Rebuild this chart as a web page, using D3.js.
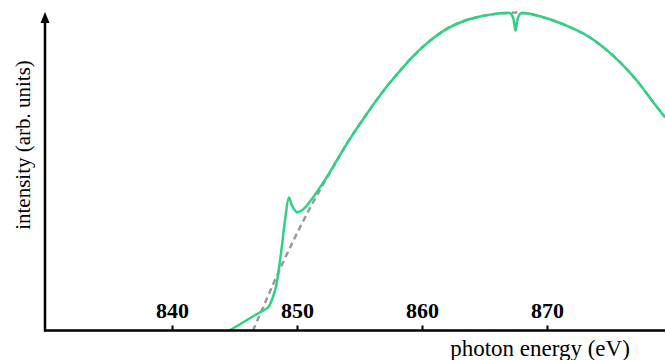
<!DOCTYPE html>
<html>
<head>
<meta charset="utf-8">
<script src="https://cdn.jsdelivr.net/npm/d3@7"></script>
<style>
  body { margin: 0; background: #fff; }
  text { font-family: "Liberation Serif", "DejaVu Serif", serif; fill: #000; }
</style>
</head>
<body>
<div id="container"></div>
<script>
// photon energy (eV) and intensity (arb. units, 0-100)
var specEnergy = [844.6, 847.04, 847.7, 848.24, 848.5, 848.78, 849.04, 849.36, 849.6, 850.0, 850.48, 851.04,
                  852.38, 853.98, 855.58, 857.18, 857.98, 859.3, 860.64, 861.98, 863.3, 864.64, 865.98,
                  867.04, 867.28, 867.4, 867.48, 867.56, 867.68, 867.92,
                  869.18, 870.5, 871.84, 873.18, 874.5, 875.84, 877.18, 878.5, 879.44];
var specIntensity = [0, 5.75, 7.33, 12.58, 17.92, 26.19, 34.59, 41.82, 39.31, 37.2, 38.05, 40.57,
                     48.21, 58.71, 68.1, 76.7, 80.45, 86.3, 91.1, 94.85, 97.26, 98.74, 99.59,
                     99.8, 98.4, 96.0, 94.3, 96.0, 98.4, 99.8,
                     99.06, 97.48, 95.38, 92.77, 89.09, 84.37, 78.62, 71.79, 67.08];

// smooth background (dashed)
var bgEnergy = [846.48, 847.28, 848.08, 848.88, 849.68, 850.48, 851.28, 852.08, 852.88,
                853.98, 855.58, 857.18, 857.98, 859.3, 860.64, 861.98, 863.3, 864.64, 865.98,
                866.88, 867.48, 868.08, 869.18, 870.5, 871.84, 873.18, 874.5, 875.84, 877.18, 878.5, 879.44];
var bgIntensity = [0, 7.23, 14.47, 21.38, 27.99, 34.28, 40.25, 45.91, 51.26,
                   58.71, 68.1, 76.7, 80.45, 86.3, 91.1, 94.85, 97.26, 98.74, 99.59,
                   99.8, 100, 99.8, 99.06, 97.48, 95.38, 92.77, 89.09, 84.37, 78.62, 71.79, 67.08];

var tickValues = [840, 850, 860, 870];

var W = 665, H = 360;
var marginLeft = 45, axisY = 330.5, plotTop = 12.5;

var svg = d3.select("#container").append("svg")
    .attr("width", W)
    .attr("height", H);

var x = d3.scaleLinear().domain([829.84, 879.44]).range([marginLeft, W]);
var y = d3.scaleLinear().domain([0, 100]).range([axisY, plotTop]);

var line = d3.line()
    .x(function(d){ return x(d[0]); })
    .y(function(d){ return y(d[1]); })
    .curve(d3.curveCatmullRom.alpha(0.5));

// dashed background first, spectrum on top
svg.append("path")
    .datum(d3.zip(bgEnergy, bgIntensity))
    .attr("d", line)
    .attr("fill", "none")
    .attr("stroke", "#9a9a9a")
    .attr("stroke-width", 2.5)
    .attr("stroke-dasharray", "6,4");

svg.append("path")
    .datum(d3.zip(specEnergy, specIntensity))
    .attr("d", line)
    .attr("fill", "none")
    .attr("stroke", "#2fd182")
    .attr("stroke-width", 2.5);

// x axis: ticks pointing up, labels inside the plot
var xAxis = svg.append("g")
    .attr("transform", "translate(0," + axisY + ")")
    .call(d3.axisTop(x).tickValues(tickValues).tickSize(5).tickPadding(7.5).tickFormat(d3.format("d")));
xAxis.select(".domain").remove();
xAxis.selectAll(".tick line").attr("stroke", "#000").attr("stroke-width", 2);
xAxis.selectAll(".tick text")
    .attr("font-family", "Liberation Serif")
    .attr("font-size", 22)
    .attr("font-weight", "bold")
    .attr("fill", "#000");

svg.append("line")
    .attr("x1", marginLeft - 1).attr("x2", W)
    .attr("y1", axisY).attr("y2", axisY)
    .attr("stroke", "#000").attr("stroke-width", 2.5);

// y axis with arrow head
svg.append("line")
    .attr("x1", marginLeft).attr("x2", marginLeft)
    .attr("y1", axisY + 1).attr("y2", 20)
    .attr("stroke", "#000").attr("stroke-width", 2.5);
svg.append("path")
    .attr("d", "M" + (marginLeft - 4.5) + ",23 L" + marginLeft + ",12 L" + (marginLeft + 4.5) + ",23 Z")
    .attr("fill", "#000");

// axis titles
svg.append("text")
    .attr("x", 540).attr("y", 356)
    .attr("text-anchor", "middle")
    .attr("font-size", 23)
    .text("photon energy (eV)");

svg.append("text")
    .attr("transform", "translate(30,145) rotate(-90)")
    .attr("text-anchor", "middle")
    .attr("font-size", 21)
    .text("intensity (arb. units)");
</script>
</body>
</html>
